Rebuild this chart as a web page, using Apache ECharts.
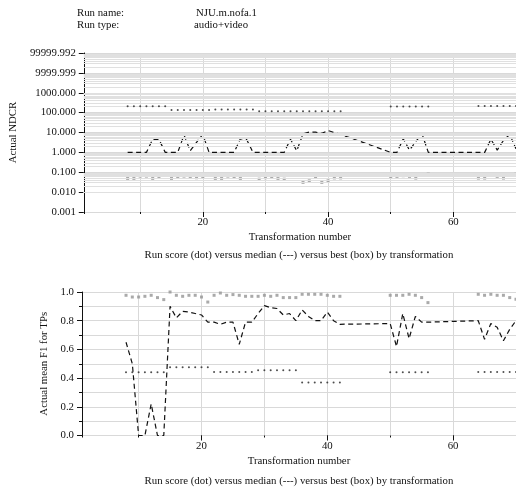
<!DOCTYPE html>
<html>
<head>
<meta charset="utf-8">
<script src="https://cdn.jsdelivr.net/npm/echarts@6/dist/echarts.min.js"></script>
<style>
html, body { margin: 0; padding: 0; background: #fff; }
#chart { width: 516px; height: 493px; }
</style>
</head>
<body>
<div id="chart"></div>
<script>
// transformation numbers with a result
const trans = [8, 9, 10, 11, 12, 13, 14, 15, 16, 17, 18, 19, 20, 21, 22, 23, 24, 25, 26, 27, 28,
  29, 30, 31, 32, 33, 34, 35, 36, 37, 38, 39, 40, 41, 42,
  50, 51, 52, 53, 54, 55, 56,
  64, 65, 66, 67, 68, 69, 70]

// NDCR (top chart)
const ndcrRun = [210, 210, 210, 210, 210, 210, 210, 135, 135, 135, 135, 135, 135, 135,
  145, 145, 145, 145, 145, 145, 145, 118, 118, 118, 118, 118, 118, 118,
  118, 118, 118, 118, 118, 118, 118,
  205, 205, 205, 205, 205, 205, 205,
  215, 215, 215, 215, 215, 215, 215]
const ndcrMedian = [1, 1, 1, 1, 4.5, 4.5, 1, 1, 1, 7.5, 1.2, 3.2, 8, 1,
  1, 1, 1, 1, 4.8, 4.5, 1, 1, 1, 1, 1, 1, 4.6, 1.2,
  8.5, 10.5, 10.5, 9, 12.5, 10, 8,
  1, 1, 4.8, 1.3, 3.5, 8.5, 1,
  1, 1, 4.6, 1.3, 4, 8, 1.5]
const ndcrBest = [0.049, 0.049, 0.064, 0.064, 0.049, 0.060, 0.070, 0.049, 0.060, 0.064, 0.057, 0.053, 0.060, 0.070,
  0.049, 0.049, 0.064, 0.060, 0.049, 0.075, 0.075, 0.045, 0.053, 0.060, 0.049, 0.045, 0.070, 0.070,
  0.031, 0.037, 0.055, 0.031, 0.037, 0.052, 0.052,
  0.055, 0.062, 0.067, 0.062, 0.051, 0.076, 0.080,
  0.051, 0.051, 0.076, 0.062, 0.051, 0.076, 0.080]
const ndcrTicks = ['0.001', '0.010', '0.100', '1.000', '10.000', '100.000', '1000.000', '9999.999', '99999.992']

// mean F1 (bottom chart)
const f1Run = [0.44, 0.44, 0.44, 0.44, 0.44, 0.44, 0.44, 0.475, 0.475, 0.475, 0.475, 0.475, 0.475, 0.475,
  0.443, 0.443, 0.443, 0.443, 0.443, 0.443, 0.443, 0.455, 0.455, 0.455, 0.455, 0.455, 0.455, 0.455,
  0.37, 0.37, 0.37, 0.37, 0.37, 0.37, 0.37,
  0.44, 0.44, 0.44, 0.44, 0.44, 0.44, 0.44,
  0.443, 0.443, 0.443, 0.443, 0.443, 0.443, 0.443]
const f1Median = [0.65, 0.50, 0.0, 0.0, 0.22, 0.0, 0.0, 0.90, 0.82, 0.865, 0.86, 0.85, 0.84, 0.79,
  0.79, 0.775, 0.79, 0.79, 0.635, 0.79, 0.79, 0.85, 0.905, 0.89, 0.885, 0.84, 0.85, 0.80,
  0.875, 0.83, 0.80, 0.80, 0.86, 0.80, 0.775,
  0.78, 0.62, 0.85, 0.675, 0.83, 0.79, 0.79,
  0.80, 0.67, 0.78, 0.755, 0.66, 0.74, 0.80]
const f1Best = [0.977, 0.965, 0.965, 0.970, 0.977, 0.961, 0.947, 1.0, 0.977, 0.970, 0.977, 0.977, 0.965, 0.93,
  0.977, 0.993, 0.977, 0.982, 0.977, 0.970, 0.970, 0.970, 0.977, 0.970, 0.977, 0.961, 0.961, 0.961,
  0.984, 0.984, 0.984, 0.984, 0.977, 0.970, 0.970,
  0.977, 0.977, 0.977, 0.984, 0.977, 0.961, 0.926,
  0.984, 0.977, 0.984, 0.977, 0.977, 0.961, 0.95]

const xLabels = [20, 40, 60]

const pairs = (vals) => trans.map((t, i) => [t, vals[i]])

const font = 'Liberation Serif'
const ink = '#111'
const gridGray = '#d9d9d9'
const txt = { fontFamily: font, fontSize: 10.8, color: ink }

// minor lines of the log grid (2..9 in each decade)
let logMinor = []
for (let e = -3; e < 5; e++) {
  for (let m = 2; m <= 9; m++) logMinor.push({ yAxis: m * Math.pow(10, e) })
}

const mainX = (gi) => ({
  type: 'value', gridIndex: gi, position: 'bottom', min: 1, max: 70, splitNumber: 7,
  axisLine: { show: false },
  axisTick: { show: true, length: 2, lineStyle: { color: ink } },
  axisLabel: { show: false },
  splitLine: { show: true, lineStyle: { color: gridGray } }
})
const labelX = (gi, gap) => ({
  type: 'value', gridIndex: gi, position: 'bottom', min: 1, max: 70, splitNumber: 7,
  name: 'Transformation number', nameLocation: 'middle', nameGap: gap, nameTextStyle: txt,
  axisLine: { show: false },
  axisTick: { show: true, length: 5, customValues: xLabels, lineStyle: { color: ink } },
  axisLabel: Object.assign({ customValues: xLabels, margin: 5 }, txt),
  splitLine: { show: false }
})

const chart = echarts.init(document.getElementById('chart'))
chart.setOption({
  animation: false,
  backgroundColor: '#fff',
  grid: [
    { left: 82, top: 53, width: 434, height: 159 },
    { left: 82, top: 292, width: 434, height: 143.5 }
  ],
  graphic: [
    { type: 'text', x: 77, y: 13, style: { text: 'Run name:', fontFamily: font, fontSize: 10.8, fill: ink, verticalAlign: 'middle' } },
    { type: 'text', x: 196, y: 13, style: { text: 'NJU.m.nofa.1', fontFamily: font, fontSize: 10.8, fill: ink, verticalAlign: 'middle' } },
    { type: 'text', x: 77, y: 25.5, style: { text: 'Run type:', fontFamily: font, fontSize: 10.8, fill: ink, verticalAlign: 'middle' } },
    { type: 'text', x: 194, y: 25.5, style: { text: 'audio+video', fontFamily: font, fontSize: 10.8, fill: ink, verticalAlign: 'middle' } },
    { type: 'text', x: 299, y: 255, style: { text: 'Run score (dot) versus median (---) versus best (box) by transformation', fontFamily: font, fontSize: 10.8, fill: ink, align: 'center', verticalAlign: 'middle' } },
    { type: 'text', x: 299, y: 481, style: { text: 'Run score (dot) versus median (---) versus best (box) by transformation', fontFamily: font, fontSize: 10.8, fill: ink, align: 'center', verticalAlign: 'middle' } }
  ],
  xAxis: [mainX(0), labelX(0, 20), mainX(1), labelX(1, 20)],
  yAxis: [
    {
      type: 'log', gridIndex: 0, logBase: 10, min: 0.001, max: 100000,
      name: 'Actual NDCR', nameLocation: 'middle', nameGap: 58, nameTextStyle: txt,
      axisLine: { show: true, lineStyle: { color: ink } },
      axisTick: { show: true, length: 5, lineStyle: { color: ink } },
      axisLabel: Object.assign({ margin: 8, formatter: v => ndcrTicks[Math.round(Math.log10(v)) + 3] }, txt),
      splitLine: { show: true, lineStyle: { color: gridGray } }
    },
    {
      type: 'value', gridIndex: 1, min: 0, max: 1, interval: 0.2,
      name: 'Actual mean F1 for TPs', nameLocation: 'middle', nameGap: 29, nameTextStyle: txt,
      axisLine: { show: true, lineStyle: { color: ink } },
      axisTick: { show: true, length: 5, lineStyle: { color: ink } },
      minorTick: { show: true, splitNumber: 2, length: 3, lineStyle: { color: ink } },
      axisLabel: Object.assign({ margin: 8, formatter: v => v.toFixed(1) }, txt),
      splitLine: { show: true, lineStyle: { color: gridGray } },
      minorSplitLine: { show: true, lineStyle: { color: gridGray } }
    }
  ],
  series: [
    {
      // log grid minor lines
      type: 'line', xAxisIndex: 0, yAxisIndex: 0, data: [], z: 1, silent: true,
      markLine: {
        silent: true, symbol: 'none', animation: false,
        label: { show: false },
        lineStyle: { color: '#e0e0e0', width: 1, type: 'solid' },
        emphasis: { disabled: true },
        data: logMinor
      }
    },
    {
      name: 'best', type: 'scatter', xAxisIndex: 0, yAxisIndex: 0,
      symbol: 'rect', symbolSize: 3, itemStyle: { color: '#959595' },
      data: pairs(ndcrBest), z: 3
    },
    {
      name: 'median', type: 'line', xAxisIndex: 0, yAxisIndex: 0,
      showSymbol: false, symbol: 'none',
      lineStyle: { color: ink, width: 1.2, type: [5, 3.5] },
      data: pairs(ndcrMedian), z: 4
    },
    {
      name: 'run', type: 'scatter', xAxisIndex: 0, yAxisIndex: 0,
      symbol: 'circle', symbolSize: 2, itemStyle: { color: '#222' },
      data: pairs(ndcrRun), z: 5
    },
    {
      name: 'best', type: 'scatter', xAxisIndex: 2, yAxisIndex: 1,
      symbol: 'rect', symbolSize: 3, itemStyle: { color: '#959595' },
      data: pairs(f1Best), z: 3
    },
    {
      name: 'median', type: 'line', xAxisIndex: 2, yAxisIndex: 1,
      showSymbol: false, symbol: 'none',
      lineStyle: { color: ink, width: 1.2, type: [5, 3.5] },
      data: pairs(f1Median), z: 4
    },
    {
      name: 'run', type: 'scatter', xAxisIndex: 2, yAxisIndex: 1,
      symbol: 'circle', symbolSize: 2, itemStyle: { color: '#222' },
      data: pairs(f1Run), z: 5
    }
  ]
})
</script>
</body>
</html>
